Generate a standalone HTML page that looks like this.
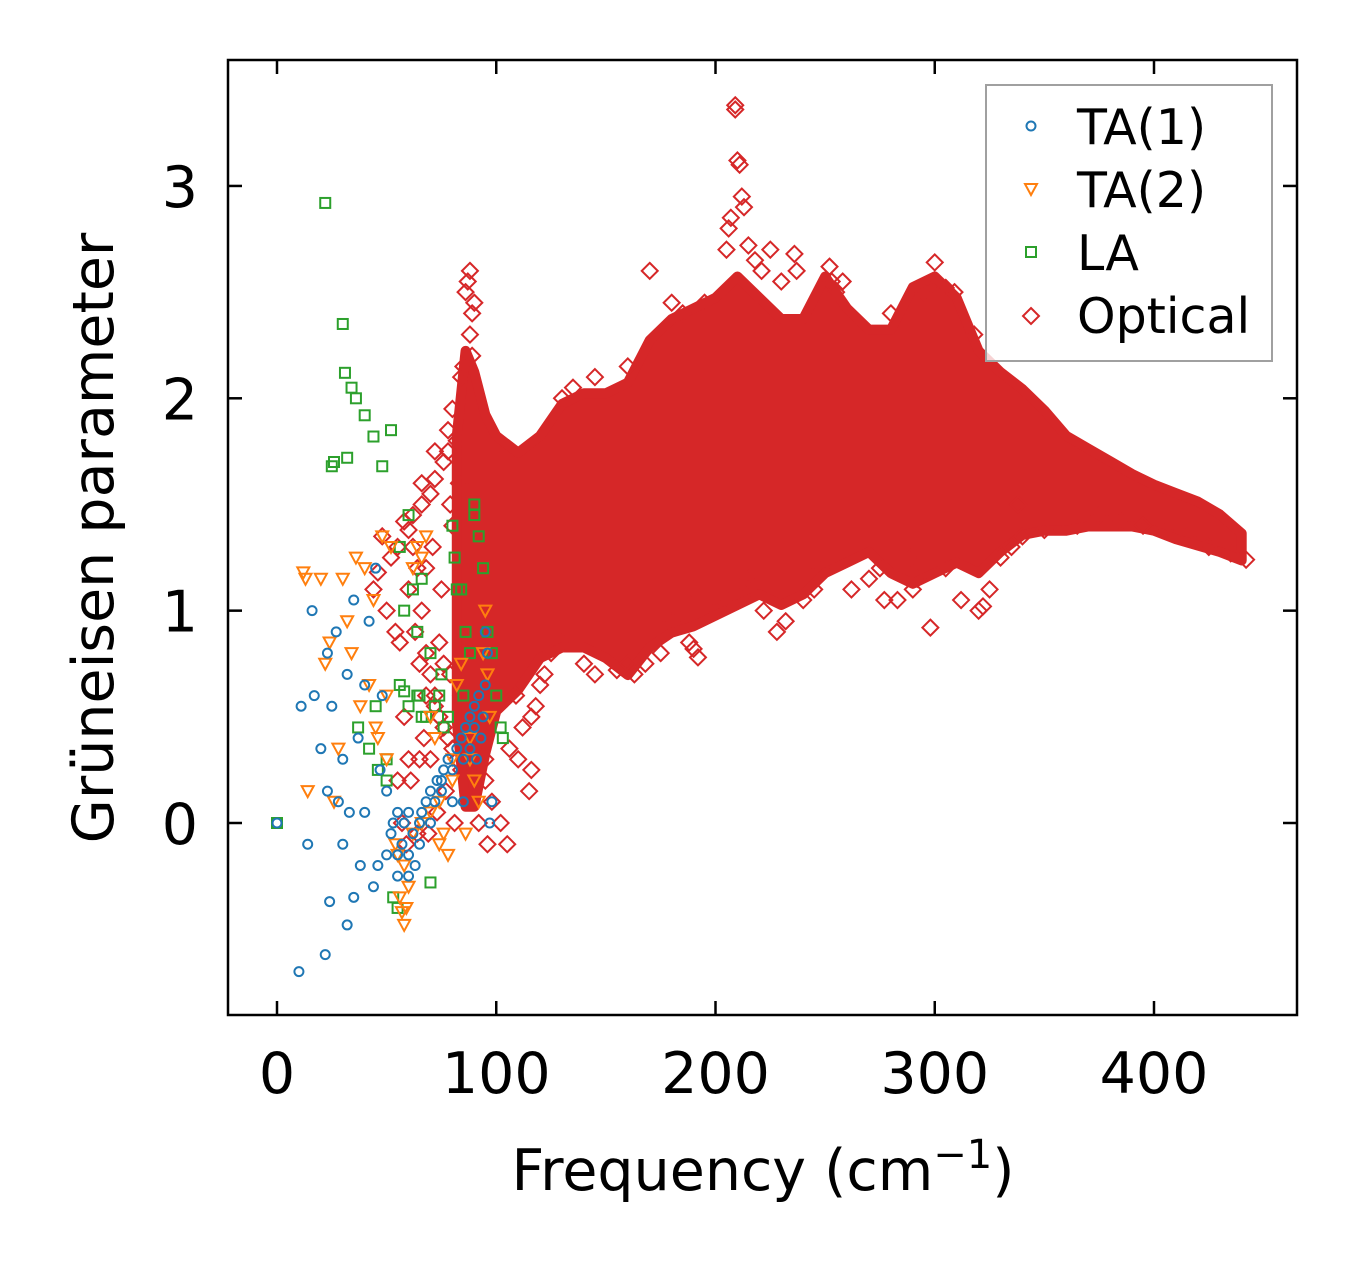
<!DOCTYPE html>
<html><head><meta charset="utf-8">
<style>
html,body{margin:0;padding:0;background:#fff;}
svg text{font-family:"DejaVu Sans","Liberation Sans",sans-serif;fill:#000;}
</style></head>
<body>
<svg id="chart" width="1357" height="1264" viewBox="0 0 1357 1264" xmlns="http://www.w3.org/2000/svg">
<rect x="0" y="0" width="1357" height="1264" fill="#fff"/>
<g id="marks"></g>
<g id="axes"></g>
<g id="legend">
  <rect x="986" y="85" width="286" height="276" fill="#fff" fill-opacity="0.8" stroke="#a0a0a0" stroke-width="2"/>
  <circle cx="1031" cy="126" r="4.5" fill="none" stroke="#1f77b4" stroke-width="2"/>
  <text x="1077" y="144" font-size="49">TA(1)</text>
  <path d="M1025,184 L1037,184 L1031,195 Z" fill="none" stroke="#ff7f0e" stroke-width="2"/>
  <text x="1077" y="207" font-size="49">TA(2)</text>
  <rect x="1026" y="247" width="10" height="10" fill="none" stroke="#2ca02c" stroke-width="2"/>
  <text x="1077" y="270" font-size="49">LA</text>
  <path d="M1031,308 L1039,316 L1031,324 L1023,316 Z" fill="none" stroke="#d62728" stroke-width="2"/>
  <text x="1077" y="333" font-size="49">Optical</text>
</g>
</svg>
<script>
// ---- data ----
const xTicks = [0, 100, 200, 300, 400];
const yTicks = [0, 1, 2, 3];
// optical dense band envelope
const bandFreq  = [82, 86, 90, 95, 100, 110, 120, 130, 140, 150, 160, 170, 180, 190, 200, 210, 220, 230, 240, 250, 260, 270, 280, 290, 300, 310, 320, 330, 340, 350, 360, 370, 380, 390, 400, 410, 420, 430, 440];
const bandLow   = [0.5, 0.1, 0.1, 0.35, 0.55, 0.65, 0.8, 0.85, 0.85, 0.8, 0.72, 0.85, 0.92, 0.95, 1.0, 1.05, 1.1, 1.05, 1.1, 1.2, 1.25, 1.3, 1.2, 1.15, 1.2, 1.25, 1.2, 1.3, 1.38, 1.4, 1.4, 1.42, 1.42, 1.42, 1.4, 1.36, 1.33, 1.3, 1.26];
const bandHigh  = [1.8, 2.2, 2.1, 1.9, 1.8, 1.72, 1.8, 1.95, 2.0, 2.0, 2.05, 2.25, 2.35, 2.4, 2.45, 2.55, 2.45, 2.35, 2.35, 2.55, 2.4, 2.3, 2.3, 2.5, 2.55, 2.45, 2.2, 2.1, 2.02, 1.92, 1.8, 1.74, 1.68, 1.62, 1.57, 1.53, 1.49, 1.43, 1.34];
// optical scattered points
const optX = [209,209,210,211,212,213,207,206,205,215,218,221,230,236,237,252,253,255,300,301,305,309,88,87,86,90,89,88,89,85,84,80,82,78,76,72,70,66,62,60,58,55,52,48,46,44,50,54,68,74,79,92,95,98,102,105,110,112,115,116,118,120,125,130,140,145,150,155,160,163,168,175,180,188,190,192,200,205,215,222,228,232,240,245,262,270,277,283,290,292,298,305,312,320,322,325,330,335,340,350,355,365,375,385,395,405,415,425,435,442,180,185,130,135,145,160,170,195,225,258,280,295,318,190,215,248,275,289,338,122,116,109,106,100,95,92,96,65,68,72,56,60,74,84,
 62,64,66,68,70,72,74,76,78,80,82,84,60,63,67,71,75,79,83,58,61,65,69,73,77,81,55,57,59,64,70,76,80,66,72,78];
const optY = [3.38,3.36,3.12,3.1,2.95,2.9,2.85,2.8,2.7,2.72,2.65,2.6,2.55,2.68,2.6,2.62,2.55,2.5,2.64,2.55,2.52,2.5,2.6,2.55,2.5,2.45,2.4,2.3,2.2,2.15,2.1,1.95,1.8,1.75,1.7,1.62,1.55,1.5,1.45,1.38,1.42,1.3,1.25,1.35,1.18,1.1,1.0,0.9,1.2,0.85,0.7,0.5,0.3,0.1,0.0,-0.1,0.3,0.45,0.15,0.25,0.55,0.65,0.8,0.85,0.75,0.7,0.95,0.72,0.75,0.7,0.75,0.8,0.95,0.85,0.82,0.78,1.0,1.05,1.1,1.0,0.9,0.95,1.05,1.1,1.1,1.15,1.05,1.05,1.1,1.15,0.92,1.2,1.05,1.0,1.02,1.1,1.25,1.3,1.35,1.38,1.4,1.4,1.45,1.42,1.4,1.38,1.35,1.3,1.27,1.24,2.45,2.4,2.0,2.05,2.1,2.15,2.6,2.45,2.7,2.55,2.4,2.5,2.3,1.1,1.15,1.2,1.2,1.25,1.5,0.7,0.5,0.6,0.35,0.55,0.2,0.0,-0.1,0.75,0.6,0.55,0.85,0.3,0.5,0.6,
 1.3,1.2,1.0,0.8,0.7,0.6,0.5,0.45,0.4,0.35,0.3,0.25,1.1,0.9,0.4,1.3,1.1,1.5,1.6,0.5,0.2,0.3,-0.05,0.05,0.15,0.0,0.2,0.0,-0.1,-0.05,0.3,0.75,1.4,1.6,1.75,1.85];
// TA(1)
const ta1X = [0,10,11,14,16,17,20,22,23,23,24,25,27,28,30,30,32,32,33,35,35,37,38,40,40,42,44,45,46,47,48,50,50,52,53,55,55,57,58,60,60,62,63,65,66,68,70,72,73,75,76,78,80,80,82,84,85,86,88,88,90,90,91,92,93,94,95,95,96,97,98,65,70,75,85,55,60];
const ta1Y = [0,-0.7,0.55,-0.1,1.0,0.6,0.35,-0.62,0.8,0.15,-0.37,0.55,0.9,0.1,0.3,-0.1,-0.48,0.7,0.05,-0.35,1.05,0.4,-0.2,0.65,0.05,0.95,-0.3,1.2,-0.2,0.25,0.6,-0.15,0.15,-0.05,0.0,-0.25,0.05,-0.1,0.0,-0.15,0.05,-0.05,-0.2,0.0,0.05,0.1,0.15,0.1,0.2,0.2,0.25,0.3,0.25,0.1,0.35,0.4,0.3,0.45,0.35,0.5,0.45,0.55,0.3,0.6,0.4,0.5,0.65,0.9,0.8,0.0,0.1,-0.1,0.0,0.15,0.1,-0.15,-0.25];
// TA(2)
const ta2X = [12,13,14,20,22,24,26,28,30,32,34,36,38,40,42,44,46,48,50,52,54,56,57,58,59,60,62,64,66,68,70,72,74,76,78,80,82,84,86,88,90,92,94,95,96,97,62,66,70,74,80,88,55,58,50,45];
const ta2Y = [1.18,1.15,0.15,1.15,0.75,0.85,0.1,0.35,1.15,0.95,0.8,1.25,0.55,1.2,0.65,1.05,0.4,1.35,0.3,1.3,-0.1,-0.35,-0.42,-0.48,-0.4,-0.3,1.2,1.3,1.25,1.35,0.5,0.4,-0.1,-0.05,-0.15,0.2,0.65,0.75,-0.05,0.3,0.2,0.1,0.8,1.0,0.7,0.5,-0.05,0.0,0.05,0.1,0.3,0.4,-0.15,-0.2,0.6,0.45];
// LA
const laX = [0,22,25,26,30,31,32,34,36,37,40,42,44,46,48,50,52,53,55,56,58,60,62,64,65,66,68,70,72,74,76,78,80,81,82,84,86,88,90,90,92,94,96,98,100,102,103,60,64,66,70,75,85,56,58,50,45];
const laY = [0,2.92,1.68,1.7,2.35,2.12,1.72,2.05,2.0,0.45,1.92,0.35,1.82,0.25,1.68,0.3,1.85,-0.35,-0.4,1.3,1.0,1.45,1.1,0.9,0.6,1.15,0.5,-0.28,0.55,0.6,0.45,0.5,1.4,1.25,1.1,1.1,0.9,0.8,1.5,1.45,1.35,1.2,0.9,0.8,0.6,0.45,0.4,0.55,0.6,0.5,0.8,0.7,0.6,0.65,0.62,0.2,0.55];

// ---- geometry ----
const L = 228, R = 1297, T = 60, B = 1015;
const xScale = v => 277 + v * 2.1925;
const yScale = v => 823 - v * 212.35;
const NS = 'http://www.w3.org/2000/svg';
const marks = document.getElementById('marks');
const axes = document.getElementById('axes');
function mk(tag, attrs, parent) {
  const e = document.createElementNS(NS, tag);
  for (const k in attrs) e.setAttribute(k, attrs[k]);
  parent.appendChild(e);
  return e;
}

const defs = mk('defs', {}, marks);
const cp = mk('clipPath', {id: 'clip'}, defs);
mk('rect', {x: L, y: T, width: R - L, height: B - T}, cp);
const g = mk('g', {'clip-path': 'url(#clip)'}, marks);

let d = '';
bandFreq.forEach((f, i) => { d += (i ? 'L' : 'M') + xScale(f) + ',' + (yScale(bandHigh[i]) - 5) + ' '; });
for (let i = bandFreq.length - 1; i >= 0; i--) d += 'L' + xScale(bandFreq[i]) + ',' + (yScale(bandLow[i]) + 5) + ' ';
d += 'Z';
const band = mk('path', {d: d, fill: '#d62728', stroke: '#d62728', 'stroke-width': 10, 'stroke-linejoin': 'round'}, g);



optX.forEach((x, i) => {
  const cx = xScale(x), cy = yScale(optY[i]);
  const p = mk('path', {d: `M${cx},${cy-8} L${cx+8},${cy} L${cx},${cy+8} L${cx-8},${cy} Z`, fill: 'none', stroke: '#d62728', 'stroke-width': 2}, g);
  
  
});
laX.forEach((x, i) => {
  const cx = xScale(x), cy = yScale(laY[i]);
  const p = mk('rect', {x: cx - 5, y: cy - 5, width: 10, height: 10, fill: 'none', stroke: '#2ca02c', 'stroke-width': 2}, g);
  
  
});
ta2X.forEach((x, i) => {
  const cx = xScale(x), cy = yScale(ta2Y[i]);
  const p = mk('path', {d: `M${cx-6},${cy-5} L${cx+6},${cy-5} L${cx},${cy+6} Z`, fill: 'none', stroke: '#ff7f0e', 'stroke-width': 2}, g);
  
  
});
ta1X.forEach((x, i) => {
  const p = mk('circle', {cx: xScale(x), cy: yScale(ta1Y[i]), r: 4.5, fill: 'none', stroke: '#1f77b4', 'stroke-width': 2}, g);
  
  
});

const frame = mk('rect', {x: L, y: T, width: R - L, height: B - T, fill: 'none', stroke: '#000', 'stroke-width': 2.5}, axes);


xTicks.forEach(v => {
  const x = xScale(v);
  mk('line', {x1: x, x2: x, y1: B, y2: B - 14, stroke: '#000', 'stroke-width': 2.5}, axes);
  mk('line', {x1: x, x2: x, y1: T, y2: T + 14, stroke: '#000', 'stroke-width': 2.5}, axes);
  const t = mk('text', {x: x, y: 1093, 'font-size': 57, 'text-anchor': 'middle'}, axes);
  t.textContent = v;
  
  
});
yTicks.forEach(v => {
  const y = yScale(v);
  mk('line', {x1: L, x2: L + 14, y1: y, y2: y, stroke: '#000', 'stroke-width': 2.5}, axes);
  mk('line', {x1: R, x2: R - 14, y1: y, y2: y, stroke: '#000', 'stroke-width': 2.5}, axes);
  const t = mk('text', {x: 198, y: y + 21, 'font-size': 57, 'text-anchor': 'end'}, axes);
  t.textContent = v;
  
  
});
const xl = mk('text', {x: 763, y: 1190, 'font-size': 57, 'text-anchor': 'middle'}, axes);
xl.innerHTML = 'Frequency (cm<tspan dy="-22" font-size="40">−1</tspan><tspan dy="22">)</tspan>';


const yl = mk('text', {x: 0, y: 0, 'font-size': 57, 'text-anchor': 'middle', transform: 'translate(113,538) rotate(-90)'}, axes);
yl.textContent = 'Grüneisen parameter';


</script>
</body></html>
